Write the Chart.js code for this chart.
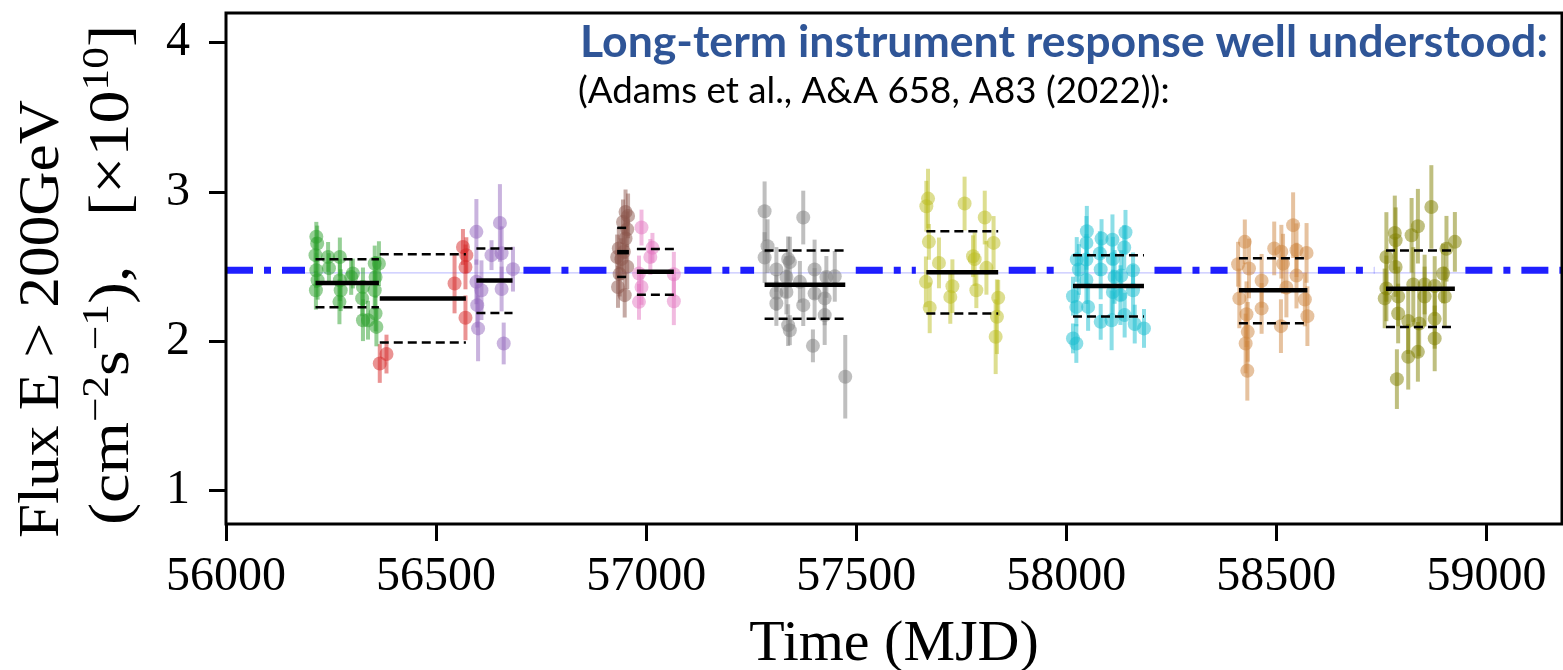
<!DOCTYPE html>
<html>
<head>
<meta charset="utf-8">
<script src="https://cdn.jsdelivr.net/npm/chart.js@4.4.1/dist/chart.umd.min.js"></script>
<style>
  html, body { margin: 0; padding: 0; background: #fff; }
  #wrap { width: 1563px; height: 670px; }
</style>
</head>
<body>
<div id="wrap"><canvas id="fluxChart"></canvas></div>
<script>
// ---- data (MJD, flux in 1e-10 cm^-2 s^-1, error) ----
const greenTime = [56215, 56217, 56213, 56215, 56218, 56214, 56243, 56245, 56271, 56271, 56273, 56270, 56302, 56298, 56326, 56324, 56326, 56338, 56354, 56356, 56354, 56356, 56358, 56364];
const greenFlux = [2.70, 2.655, 2.577, 2.476, 2.409, 2.342, 2.565, 2.49, 2.565, 2.409, 2.342, 2.264, 2.454, 2.431, 2.364, 2.287, 2.141, 2.141, 2.521, 2.431, 2.342, 2.186, 2.096, 2.52];
const greenErr = [0.10, 0.12, 0.12, 0.12, 0.13, 0.13, 0.10, 0.10, 0.13, 0.14, 0.14, 0.15, 0.10, 0.12, 0.13, 0.12, 0.14, 0.13, 0.12, 0.14, 0.13, 0.12, 0.13, 0.15];

const redTime = [56366, 56382, 56544, 56564, 56572, 56570, 56570];
const redFlux = [1.851, 1.914, 2.387, 2.632, 2.577, 2.498, 2.157];
const redErr = [0.13, 0.13, 0.20, 0.12, 0.12, 0.15, 0.15];

const purpleTime = [56596, 56652, 56632, 56656, 56683, 56596, 56608, 56656, 56598, 56600, 56661];
const purpleFlux = [2.733, 2.793, 2.577, 2.59, 2.483, 2.398, 2.342, 2.35, 2.242, 2.086, 1.985];
const purpleErr = [0.22, 0.26, 0.10, 0.18, 0.15, 0.15, 0.20, 0.15, 0.15, 0.22, 0.14];

const brownTime = [56951, 56957, 56945, 56955, 56951, 56935, 56947, 56931, 56941, 56955, 56933, 56949, 56937];
const brownFlux = [2.867, 2.84, 2.80, 2.75, 2.689, 2.622, 2.60, 2.565, 2.55, 2.50, 2.364, 2.309, 2.45];
const brownErr = [0.15, 0.15, 0.15, 0.12, 0.14, 0.14, 0.15, 0.15, 0.14, 0.15, 0.14, 0.15, 0.15];

const pinkTime = [56989, 57015, 57010, 56983, 56989, 56983, 57066, 57066];
const pinkFlux = [2.762, 2.626, 2.565, 2.454, 2.364, 2.264, 2.449, 2.268];
const pinkErr = [0.12, 0.10, 0.12, 0.12, 0.12, 0.12, 0.15, 0.16];

const grayTime = [57282, 57374, 57289, 57282, 57310, 57338, 57342, 57334, 57401, 57429, 57449, 57310, 57334, 57366, 57401, 57425, 57310, 57374, 57425, 57338, 57342, 57397, 57474];
const grayFlux = [2.871, 2.829, 2.637, 2.561, 2.481, 2.552, 2.53, 2.431, 2.481, 2.431, 2.435, 2.324, 2.33, 2.398, 2.32, 2.287, 2.253, 2.242, 2.175, 2.108, 2.074, 1.969, 1.762];
const grayErr = [0.20, 0.18, 0.18, 0.17, 0.15, 0.15, 0.17, 0.14, 0.20, 0.14, 0.17, 0.12, 0.15, 0.14, 0.17, 0.18, 0.15, 0.14, 0.20, 0.14, 0.10, 0.11, 0.28];

const yellowTime = [57671, 57667, 57758, 57806, 57673, 57827, 57697, 57778, 57782, 57810, 57666, 57729, 57724, 57786, 57675, 57838, 57835, 57832];
const yellowFlux = [2.956, 2.905, 2.923, 2.829, 2.666, 2.659, 2.525, 2.57, 2.55, 2.492, 2.398, 2.369, 2.297, 2.342, 2.224, 2.291, 2.164, 2.03];
const yellowErr = [0.20, 0.17, 0.18, 0.18, 0.12, 0.18, 0.17, 0.14, 0.18, 0.18, 0.17, 0.18, 0.18, 0.12, 0.17, 0.12, 0.25, 0.25];

const cyanTime = [58049, 58141, 58084, 58110, 58048, 58138, 58080, 58025, 58048, 58111, 58030, 58082, 58159, 58115, 58131, 58048, 58159, 58111, 58129, 58016, 58024, 58052, 58139, 58082, 58108, 58163, 58185, 58016, 58024];
const cyanFlux = [2.737, 2.73, 2.688, 2.68, 2.659, 2.628, 2.588, 2.548, 2.548, 2.55, 2.481, 2.481, 2.475, 2.431, 2.44, 2.41, 2.342, 2.33, 2.309, 2.302, 2.23, 2.23, 2.175, 2.13, 2.14, 2.115, 2.086, 2.019, 1.985];
const cyanErr = [0.17, 0.15, 0.13, 0.17, 0.18, 0.15, 0.15, 0.15, 0.17, 0.15, 0.17, 0.20, 0.12, 0.18, 0.17, 0.16, 0.17, 0.15, 0.20, 0.13, 0.13, 0.16, 0.15, 0.12, 0.20, 0.13, 0.13, 0.10, 0.13];

const orangeTime = [58540, 58425, 58495, 58512, 58548, 58572, 58409, 58435, 58516, 58465, 58548, 58524, 58412, 58465, 58568, 58429, 58574, 58511, 58432, 58427, 58431];
const orangeFlux = [2.778, 2.666, 2.622, 2.60, 2.61, 2.592, 2.516, 2.488, 2.52, 2.405, 2.44, 2.36, 2.287, 2.22, 2.28, 2.181, 2.168, 2.101, 2.063, 1.985, 1.802];
const orangeErr = [0.22, 0.15, 0.18, 0.18, 0.18, 0.20, 0.15, 0.20, 0.20, 0.18, 0.22, 0.20, 0.20, 0.17, 0.18, 0.22, 0.20, 0.18, 0.20, 0.20, 0.20];

const oliveTime = [58869, 58837, 58782, 58822, 58784, 58925, 58905, 58762, 58784, 58897, 58762, 58826, 58853, 58877, 58758, 58790, 58853, 58901, 58790, 58814, 58840, 58877, 58877, 58837, 58814, 58787];
const oliveFlux = [2.90, 2.771, 2.726, 2.71, 2.677, 2.666, 2.62, 2.565, 2.498, 2.454, 2.354, 2.38, 2.38, 2.37, 2.287, 2.30, 2.30, 2.30, 2.186, 2.135, 2.119, 2.15, 2.019, 1.929, 1.896, 1.746];
const oliveErr = [0.28, 0.25, 0.25, 0.25, 0.22, 0.20, 0.22, 0.30, 0.20, 0.20, 0.22, 0.25, 0.20, 0.20, 0.20, 0.20, 0.20, 0.20, 0.20, 0.22, 0.22, 0.20, 0.22, 0.20, 0.22, 0.20];

// per-period average and spread (one entry per colour group)
const periodStart = [56213, 56366, 56596, 56931, 56978, 57282, 57667, 58016, 58411, 58761];
const periodEnd = [56364, 56571, 56682, 56959, 57066, 57474, 57838, 58185, 58574, 58925];
const periodMean = [2.391, 2.287, 2.407, 2.597, 2.465, 2.378, 2.463, 2.371, 2.342, 2.351];
const periodUpper = [2.55, 2.583, 2.622, 2.76, 2.619, 2.608, 2.737, 2.577, 2.557, 2.608];
const periodLower = [2.228, 1.992, 2.19, 2.431, 2.311, 2.15, 2.186, 2.166, 2.121, 2.096];

// long-term reference level, drawn between the observing periods
const refLevel = 2.475;
const refFrom = [56000, 56708, 57091, 57499, 57863, 58210, 58599, 58950];
const refTo = [56188, 56906, 57257, 57642, 57991, 58384, 58733, 59180];
const overallLevel = 2.458;

const xTicks = [56000, 56500, 57000, 57500, 58000, 58500, 59000];
const yTicks = [1, 2, 3, 4];

// ---- build datasets ----
const groupTimes = [greenTime, redTime, purpleTime, brownTime, pinkTime, grayTime, yellowTime, cyanTime, orangeTime, oliveTime];
const groupFlux = [greenFlux, redFlux, purpleFlux, brownFlux, pinkFlux, grayFlux, yellowFlux, cyanFlux, orangeFlux, oliveFlux];
const groupErr = [greenErr, redErr, purpleErr, brownErr, pinkErr, grayErr, yellowErr, cyanErr, orangeErr, oliveErr];
const groupColors = ['44,160,44', '214,39,40', '148,103,189', '140,86,75', '227,119,194', '127,127,127', '188,189,34', '23,190,207', '205,133,63', '128,128,0'];

const datasets = [];

groupTimes.forEach((times, g) => {
    datasets.push({
        type: 'scatter',
        data: times.map((t, i) => ({ x: t, y: groupFlux[g][i] })),
        errors: groupErr[g],
        backgroundColor: 'rgba(' + groupColors[g] + ',0.5)',
        borderWidth: 0,
        pointRadius: 7,
        order: 10 + g
    });
});

periodStart.forEach((s, i) => {
    const e = periodEnd[i];
    datasets.push({
        type: 'scatter', showLine: true,
        data: [{ x: s, y: periodMean[i] }, { x: e, y: periodMean[i] }],
        borderColor: '#000', borderWidth: 4.5, pointRadius: 0, borderCapStyle: 'butt', order: 0
    });
    [periodUpper[i], periodLower[i]].forEach(v => {
        datasets.push({
            type: 'scatter', showLine: true,
            data: [{ x: s, y: v }, { x: e, y: v }],
            borderColor: '#000', borderWidth: 2.5, borderDash: [9, 5], pointRadius: 0, borderCapStyle: 'butt', order: 0
        });
    });
});

refFrom.forEach((s, i) => {
    datasets.push({
        type: 'scatter', showLine: true,
        data: [{ x: s, y: refLevel }, { x: refTo[i], y: refLevel }],
        borderColor: 'rgba(0,0,255,0.88)', borderWidth: 7, borderDash: [27, 11, 7, 11],
        borderCapStyle: 'butt', pointRadius: 0, order: 100
    });
});

datasets.push({
    type: 'scatter', showLine: true,
    data: [{ x: 56185, y: overallLevel }, { x: 58950, y: overallLevel }],
    borderColor: 'rgba(60,60,255,0.3)', borderWidth: 1.2, pointRadius: 0, order: 101
});

// vertical error bars, drawn just before each group's markers
const errorBarPlugin = {
    id: 'errorBars',
    beforeDatasetDraw(chart, args) {
        const ds = chart.data.datasets[args.index];
        if (!ds.errors) return;
        const xs = chart.scales.x, ys = chart.scales.y;
        const ctx = chart.ctx;
        ctx.save();
        ctx.strokeStyle = ds.backgroundColor;
        ctx.lineWidth = 4;
        ds.data.forEach((p, i) => {
            const px = xs.getPixelForValue(p.x);
            ctx.beginPath();
            ctx.moveTo(px, ys.getPixelForValue(p.y - ds.errors[i]));
            ctx.lineTo(px, ys.getPixelForValue(p.y + ds.errors[i]));
            ctx.stroke();
        });
        ctx.restore();
    }
};

const serif = '"Liberation Serif", "DejaVu Serif", serif';

// frame, y axis title with superscripts, annotation
const decorPlugin = {
    id: 'decor',
    afterDraw(chart) {
        const ctx = chart.ctx;
        const a = chart.chartArea;
        ctx.save();
        ctx.strokeStyle = '#000';
        ctx.lineWidth = 3;
        ctx.strokeRect(a.left, a.top, a.right - a.left, a.bottom - a.top);

        // y title, line 1
        ctx.fillStyle = '#000';
        ctx.textBaseline = 'alphabetic';
        ctx.save();
        ctx.translate(58, 319);
        ctx.rotate(-Math.PI / 2);
        ctx.font = '58px ' + serif;
        ctx.textAlign = 'center';
        const w1 = ctx.measureText('Flux E > 200GeV').width;
        ctx.scale(438 / w1, 1);
        ctx.fillText('Flux E > 200GeV', 0, 0);
        ctx.restore();

        // y title, line 2 (with superscripts)
        const parts = [
            ['(cm', false], ['\u22122', true], ['s', false], ['\u22121', true],
            ['),   [\u00d710', false], ['10', true], [']', false]
        ];
        const fontFor = sup => (sup ? '38px ' : '58px ') + serif;
        let total = 0;
        parts.forEach(([t, sup]) => { ctx.font = fontFor(sup); total += ctx.measureText(t).width; });
        ctx.save();
        ctx.translate(128, 275);
        ctx.rotate(-Math.PI / 2);
        ctx.scale(500 / total, 1);
        ctx.textAlign = 'left';
        let cx = -total / 2;
        parts.forEach(([t, sup]) => {
            ctx.font = fontFor(sup);
            ctx.fillText(t, cx, sup ? -20 : 0);
            cx += ctx.measureText(t).width;
        });
        ctx.restore();

        // annotation text, fitted to the widths in the figure
        const line1 = 'Long-term instrument response well understood:';
        const line2 = '(Adams et al., A&A 658, A83 (2022)):';
        ctx.textAlign = 'left';
        ctx.font = 'bold 100px Lato';
        const s1 = 100 * 967 / ctx.measureText(line1).width;
        ctx.font = 'bold ' + s1.toFixed(1) + 'px Lato';
        ctx.fillStyle = '#2f5597';
        ctx.fillText(line1, 580, 57);
        ctx.font = '100px Lato';
        const s2 = 100 * 592 / ctx.measureText(line2).width;
        ctx.font = s2.toFixed(1) + 'px Lato';
        ctx.fillStyle = '#000';
        ctx.fillText(line2, 578, 103);
        ctx.restore();
    }
};

const tickFont = { family: serif, size: 48 };

function initializeFluxChart() {
    const ctx = document.getElementById('fluxChart').getContext('2d');
    new Chart(ctx, {
        type: 'scatter',
        data: { datasets: datasets },
        options: {
            responsive: true,
            maintainAspectRatio: false,
            animation: false,
            devicePixelRatio: 1,
            layout: { autoPadding: false, padding: { top: 13, right: 1, left: 0, bottom: 0 } },
            plugins: { legend: { display: false }, tooltip: { enabled: false } },
            scales: {
                x: {
                    type: 'linear',
                    min: 56000,
                    max: 59180,
                    afterBuildTicks: s => { s.ticks = xTicks.map(v => ({ value: v })); },
                    afterFit: s => { s.height = 146; s.paddingLeft = 0; s.paddingRight = 0; },
                    border: { display: false },
                    grid: { drawOnChartArea: false, tickLength: 17, tickWidth: 3, tickColor: '#000' },
                    ticks: { font: tickFont, color: '#000', padding: 8, maxRotation: 0, autoSkip: false, callback: v => String(v) },
                    title: {
                        display: true,
                        text: 'Time (MJD)',
                        color: '#000',
                        font: { family: serif, size: 58, lineHeight: 0.86 },
                        padding: { top: 0, bottom: 0 }
                    }
                },
                y: {
                    type: 'linear',
                    min: 0.775,
                    max: 4.2,
                    afterBuildTicks: s => { s.ticks = yTicks.map(v => ({ value: v })); },
                    afterFit: s => { s.width = 226; s.paddingTop = 0; s.paddingBottom = 0; },
                    border: { display: false },
                    grid: { drawOnChartArea: false, tickLength: 17, tickWidth: 3, tickColor: '#000' },
                    ticks: { font: tickFont, color: '#000', padding: 19, callback: v => String(v) },
                    title: { display: false }
                }
            }
        },
        plugins: [errorBarPlugin, decorPlugin]
    });
}

document.addEventListener('DOMContentLoaded', initializeFluxChart);
</script>
</body>
</html>
